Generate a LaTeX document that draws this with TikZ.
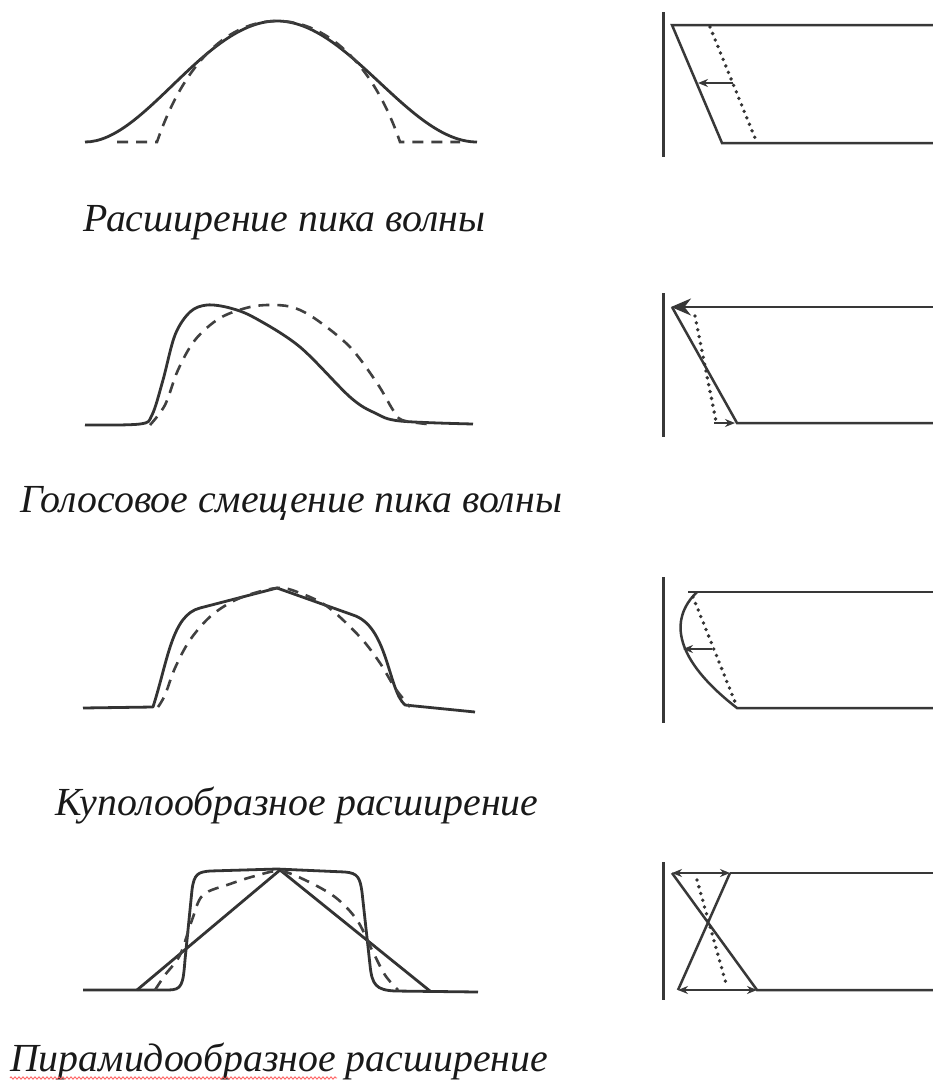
\documentclass[tikz,border=0pt]{standalone}
\usepackage{fontspec}
\setmainfont{Liberation Serif}
\usetikzlibrary{arrows.meta,decorations.pathmorphing}
\begin{document}
\begin{tikzpicture}[x=1pt,y=-1pt,
  wave/.style={draw=black!80, line width=2.8pt, line join=round},
  wavedash/.style={draw=black!75, line width=2.6pt, dash pattern=on 11pt off 8pt},
  bar/.style={draw=black!78, line width=2.5pt},
  wall/.style={draw=black!78, line width=3pt},
  shiftdot/.style={draw=black!80, line width=3.8pt, line cap=round, dash pattern=on 0pt off 7pt},
  pointer/.style={draw=black!78, line width=1.6pt, -{Stealth[length=10pt,width=8pt]}},
  caption/.style={anchor=base west, inner sep=0pt, text=black!90, font=\itshape\fontsize{39.8}{42}\selectfont}]
\useasboundingbox[fill=white] (0,0) rectangle (933,1082);

\draw[wave] (85,142) .. controls (145,142) and (205,21) .. (277,21) .. controls (349,21) and (409,142) .. (477,142);
\draw[wavedash] (117,142) -- (157,142) .. controls (185,60) and (230,21) .. (277,21) .. controls (324,21) and (372,60) .. (400,142) -- (460,142);

\draw[wave] plot[smooth, tension=0.55] coordinates {(85,425) (140,424) (152,415) (163,380) (175,335) (190,312) (207,305) (230,308) (255,318) (300,347) (350,397) (375,413) (400,421) (473,424)};
\draw[wavedash] plot[smooth, tension=0.55] coordinates {(150,425) (165,405) (178,370) (195,340) (220,318) (250,307) (275,305) (295,308) (317,320) (350,347) (377,383) (393,410) (402,420) (427,424)};

\draw[wave] (83,708) -- (153,707) .. controls (168,660) and (172,615) .. (200,608) -- (277,588) -- (353,615) .. controls (388,626) and (388,690) .. (405,705) -- (475,712);
\draw[wavedash] plot[smooth, tension=0.55] coordinates {(158,707) (165,695) (175,668) (190,640) (212,615) (240,598) (277,588) (300,593) (328,607) (360,637) (380,663) (395,688) (410,707)};

\draw[wave] (83,990) -- (168,990) .. controls (182,990) and (183,985) .. (185,960) -- (192,890) .. controls (194,874) and (198,872) .. (210,871) -- (277,869) -- (345,872) .. controls (358,873) and (360,878) .. (362,892) -- (370,965) .. controls (372,985) and (376,990) .. (395,991) -- (478,992);
\draw[wave] (137,990) -- (280,870) -- (430,991);
\draw[wavedash] plot[smooth, tension=0.55] coordinates {(155,990) (165,975) (180,955) (192,920) (203,895) (230,884) (255,876) (280,871) (305,880) (335,897) (357,920) (372,950) (385,975) (398,990)};

\draw[wall] (663,12) -- (663,157);
\draw[bar] (933,25) -- (672,25) -- (722,143) -- (933,143);
\draw[shiftdot] (710,27) -- (757,143);
\draw[pointer] (733,83) -- (698,83);

\draw[wall] (663,293) -- (663,437);
\draw[bar, -{Stealth[length=20pt,width=17pt]}] (933,307) -- (671,307);
\draw[bar] (672,307) -- (737,423) -- (933,423);
\draw[shiftdot] (695,316) -- (716,421);
\draw[pointer] (714,423) -- (735,423);

\draw[wall] (663,577) -- (663,723);
\draw[bar] (933,592) -- (688,592);
\draw[bar] (697,592) .. controls (668,620) and (675,660) .. (737,708) -- (933,708);
\draw[shiftdot] (693,597) -- (735,702);
\draw[pointer] (712,649) -- (683,649);

\draw[wall] (663,862) -- (663,1000);
\draw[bar] (730,873) -- (933,873);
\draw[bar] (672,873) -- (757,990) -- (933,990);
\draw[bar] (730,873) -- (678,990);
\draw[pointer, {Stealth[length=10pt,width=8pt]}-{Stealth[length=10pt,width=8pt]}] (672,873) -- (730,873);
\draw[pointer, {Stealth[length=10pt,width=8pt]}-{Stealth[length=10pt,width=8pt]}] (678,990) -- (757,990);
\draw[shiftdot] (697,880) -- (727,987);

\node[caption] (capA) at (83,231) {Расширение пика волны};
\node[caption] (capB) at (20,512) {Голосовое смещение пика волны};
\node[caption] (capC) at (55,815) {Куполообразное расширение};
\node[caption] (capD) at (10,1071) {Пирамидообразное расширение};
\draw[red!65, line width=0.8pt, decorate, decoration={zigzag, amplitude=1.2pt, segment length=4pt}] (capD.base west) ++(0,7) -- ++(327,0);
\end{tikzpicture}
\end{document}
